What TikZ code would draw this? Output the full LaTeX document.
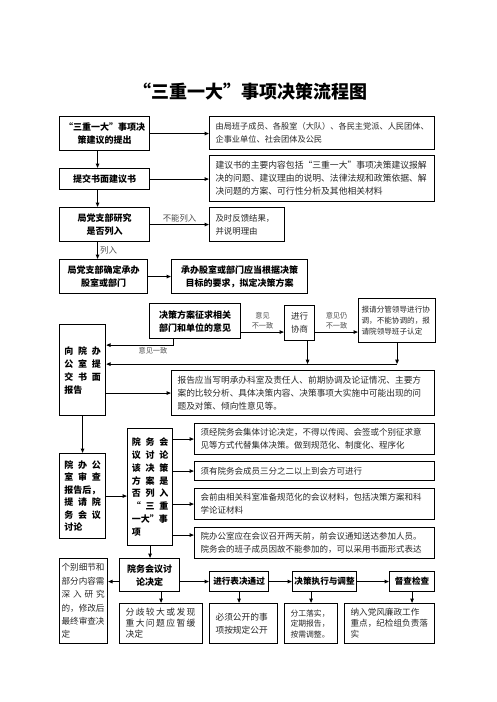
\documentclass[tikz,border=0pt]{standalone}
\usepackage{fontspec}
\setmainfont{Noto Sans CJK SC}
\usetikzlibrary{arrows.meta, calc}
\newcommand{\gp}{\hspace{4.8pt}}
\tikzset{
  box/.style={draw, line width=1.1pt, anchor=north west, inner ysep=0pt},
  sz/.style 2 args={minimum width=#1, minimum height=#2},
  plain/.style={box, align=left, inner xsep=6pt, text=black!85, font=\fontsize{8.4}{13}\selectfont},
  bold/.style={box, align=center, inner xsep=1pt, font=\fontsize{9}{13}\selectfont\bfseries},
  link/.style={->, line width=1.1pt},
  note/.style={align=center, text=black!70, inner sep=2pt, font=\fontsize{7.2}{10}\selectfont}
}

\begin{document}
\begin{tikzpicture}[x=1pt, y=-1pt, >={Triangle[length=4.5pt, width=3.5pt]}]
  \useasboundingbox (0,0) rectangle (496,702);
  % Title
  \node[font=\fontsize{18}{20}\selectfont\bfseries] (title) at (250,92) {“三重一大”事项决策流程图};
  % Proposal stage
  \node[bold, sz={90}{34}] (propose) at (59,116) {“三重一大”事项决\\策建议的提出};
  \node[plain, sz={225}{33}, text width=213pt, font=\fontsize{8.2}{13}\selectfont] (proposenote) at (209,116) {由局班子成员、各股室（大队）、各民主党派、人民团体、\\企事业单位、社会团体及公民};
  \node[bold, sz={90}{21}] (submit) at (59,168) {提交书面建议书};
  \node[plain, sz={225}{46}, text width=213pt, font=\fontsize{8.8}{13}\selectfont] (submitnote) at (209,155) {建议书的主要内容包括“三重一大”事项决策建议报解\\决的问题、建议理由的说明、法律法规和政策依据、解\\决问题的方案、可行性分析及其他相关材料};
  \node[bold, sz={90}{34}] (study) at (59,207) {局党支部研究\\是否列入};
  \node[plain, sz={75}{34}, text width=63pt] (reject) at (209,207) {及时反馈结果，\\并说明理由};
  \node[bold, sz={88}{34}] (assign) at (59,259) {局党支部确定承办\\股室或部门};
  \node[bold, sz={136}{34}] (draft) at (171,259) {承办股室或部门应当根据决策\\目标的要求，拟定决策方案};
  % Consultation stage
  \node[bold, sz={91}{35}] (solicit) at (149,303) {决策方案征求相关\\部门和单位的意见};
  \node[plain, sz={30}{35}, align=center, inner xsep=1pt, font=\fontsize{8.5}{13}\selectfont] (consult) at (284,305) {进行\\协商};
  \node[plain, sz={77}{44}, inner xsep=3pt, text width=71pt, font=\fontsize{7.6}{11}\selectfont] (coord) at (358,298) {报请分管领导进行协\\调，不能协调的，报\\请院领导班子认定};
  \node[bold, sz={46}{91}, align=left] (report) at (59,324) {向\gp 院\gp 办\\公\gp 室\gp 提\\交\gp 书\gp 面\\报告};
  \node[plain, sz={263}{45}, text width=251pt, font=\fontsize{8.7}{13}\selectfont] (reportnote) at (171,370) {报告应当写明承办科室及责任人、前期协调及论证情况、主要方\\案的比较分析、具体决策内容、决策事项大实施中可能出现的问\\题及对策、倾向性意见等。};
  % Meeting stage
  \node[bold, sz={46}{85}, align=left, font=\fontsize{9}{12.5}\selectfont\bfseries] (review) at (59,453) {院\gp 办\gp 公\\室\gp 审\gp 查\\报告后，\\提\gp 请\gp 院\\务\gp 会\gp 议\\讨论};
  \node[bold, sz={45}{117}, align=left, font=\fontsize{9}{12.8}\selectfont\bfseries] (meeting) at (127,428) {院\gp 务\gp 会\\议\gp 讨\gp 论\\该\gp 决\gp 策\\方\gp 案\gp 是\\否\gp 列\gp 入\\“\gp 三\gp 重\\一大”事\\项};
  \node[plain, sz={240}{31}, text width=228pt, font=\fontsize{8.5}{13}\selectfont] (rule1) at (194,423) {须经院务会集体讨论决定，不得以传阅、会签或个别征求意\\见等方式代替集体决策。做到规范化、制度化、程序化};
  \node[plain, sz={240}{19}, text width=228pt, font=\fontsize{8.5}{13}\selectfont] (rule2) at (194,461) {须有院务会成员三分之二以上到会方可进行};
  \node[plain, sz={240}{31}, text width=228pt, font=\fontsize{8.5}{13}\selectfont] (rule3) at (194,488) {会前由相关科室准备规范化的会议材料，包括决策方案和科\\学论证材料};
  \node[plain, sz={240}{31}, text width=228pt, font=\fontsize{8.5}{13}\selectfont] (rule4) at (194,527) {院办公室应在会议召开两天前，前会议通知送达参加人员。\\院务会的班子成员因故不能参加的，可以采用书面形式表达};
  % Decision stage
  \node[plain, sz={48}{85}, inner xsep=2pt, text width=44pt, font=\fontsize{8.6}{13.4}\selectfont] (revise) at (59,558) {个别细节和\\部分内容需\\深\hspace{2.9pt}入\hspace{2.9pt}研\hspace{2.9pt}究\\的，修改后\\最终审查决\\定};
  \node[bold, sz={60}{33}] (decide) at (119,558) {院务会议讨\\论决定};
  \node[bold, sz={59}{20}, font=\fontsize{8.6}{13}\selectfont\bfseries] (vote) at (209,571) {进行表决通过};
  \node[bold, sz={64}{20}, font=\fontsize{8.6}{13}\selectfont\bfseries] (execute) at (292,571) {决策执行与调整};
  \node[bold, sz={45}{20}, font=\fontsize{8.6}{13}\selectfont\bfseries] (inspect) at (389,571) {督查检查};
  \node[plain, sz={83}{40}, text width=71pt, font=\fontsize{8.8}{11}\selectfont] (postpone) at (119,603) {分\hspace{1.4pt}歧\hspace{1.4pt}较\hspace{1.4pt}大\hspace{1.4pt}或\hspace{1.4pt}发\hspace{1.4pt}现\\重\hspace{1.4pt}大\hspace{1.4pt}问\hspace{1.4pt}题\hspace{1.4pt}应\hspace{1.4pt}暂\hspace{1.4pt}缓\\决定};
  \node[plain, sz={68}{40}, text width=56pt, font=\fontsize{8.7}{13}\selectfont] (publish) at (209,603) {必须公开的事\\项按规定公开};
  \node[plain, sz={53}{40}, text width=41pt, font=\fontsize{7.8}{10.5}\selectfont] (adjust) at (284,603) {分工落实，\\定期报告，\\按需调整。};
  \node[plain, sz={90}{40}, text width=78pt, font=\fontsize{8.6}{11}\selectfont] (supervise) at (344,603) {纳入党风廉政工作\\重点，纪检组负责落\\实};
  % Connectors, top part
  \draw[link] ([xshift=-7pt]propose.south) -- ([xshift=-7pt]submit.north);
  \draw[link] ([xshift=-7pt]submit.south) -- ([xshift=-7pt]study.north);
  \draw[link] ([xshift=-7pt]study.south) -- node[right, note, font=\fontsize{8.4}{10}\selectfont] {列入} ([xshift=-6pt]assign.north);
  \draw[link] (propose.east) -- (propose.east -| proposenote.west);
  \draw[link] (submit.east) -- (submit.east -| submitnote.west);
  \draw[link] (study.east) -- node[above, note, font=\fontsize{8.4}{10}\selectfont] {不能列入} (study.east -| reject.west);
  \draw[link] (assign.east) -- (assign.east -| draft.west);
  % Consultation loop
  \coordinate (fg) at ([yshift=-11pt]solicit.east);
  \draw[link] (fg) -- node[above, note] {意见\\不一致} (fg -| consult.west);
  \draw[link] (fg -| consult.east) -- node[above, note] {意见仍\\不一致} (fg -| coord.west);
  \coordinate (fa) at ([xshift=-22pt]solicit.south);
  \draw[link] (fa) -- ++(0,6) coordinate (fb) -- node[pos=0.3, below, note] {意见一致} (fb -| report.east);
  \coordinate (join) at ([yshift=-21pt]coord.south);
  \coordinate (cs) at ([xshift=8pt]consult.south);
  \draw[link] (coord.south) -- (join);
  \draw[link] (cs) -- (cs |- join);
  \draw[link] (join) -- (join -| report.east);
  \draw[link] (reportnote.west -| report.east) -- (reportnote.west);
  % Meeting
  \draw[link] (report.south) -- (review.north);
  \draw[link] (review.east) -- (review.east -| meeting.west);
  \foreach \r in {rule1, rule2, rule3}
    \draw[link] (meeting.east |- \r.west) -- (\r.west);
  \coordinate (r4) at ([yshift=8pt]rule4.west);
  \draw[link] (meeting.east |- r4) -- (r4);
  \draw[link] (meeting.south) -- (meeting.south |- decide.north);
  % Decision row
  \draw[link] (decide.west |- vote.west) -- (revise.east |- vote.west);
  \draw[link] (decide.east |- vote.west) -- (vote.west);
  \draw[link] (vote.east) -- (execute.west);
  \draw[link] (execute.east) -- (inspect.west);
  \draw[link] (postpone.north |- decide.south) -- (postpone.north);
  \draw[link] (vote.south) -- (vote.south |- publish.north);
  \draw[link] (adjust.north |- execute.south) -- (adjust.north);
  \draw[link] (inspect.south) -- (inspect.south |- supervise.north);
\end{tikzpicture}
\end{document}
